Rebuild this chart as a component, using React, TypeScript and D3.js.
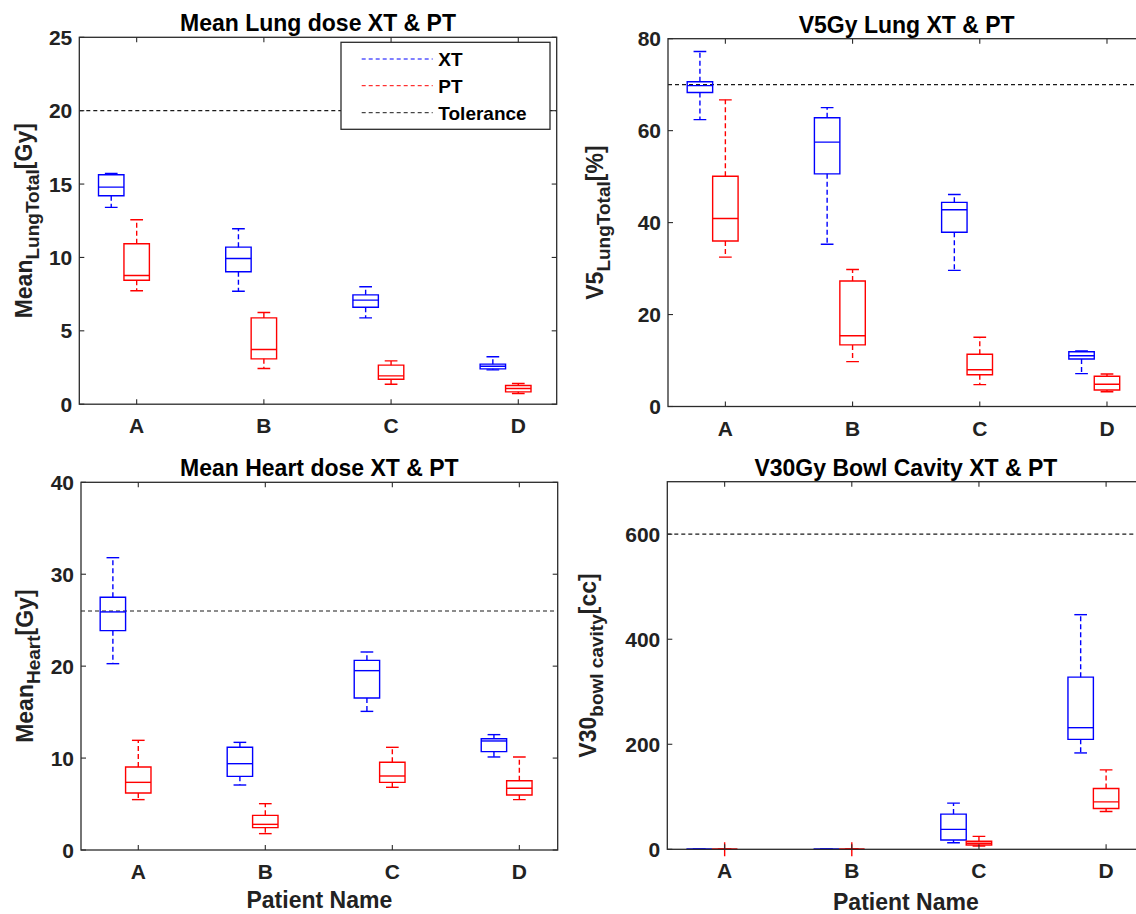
import React from 'react';
import * as d3 from 'd3';

// ---------- DATA ----------
const categories = ['A', 'B', 'C', 'D'];
const seriesNames = ['XT', 'PT', 'Tolerance'];

// each row: [lower whisker, Q1, median, Q3, upper whisker]
const lungMeanXT = [
  [13.41, 14.2, 14.79, 15.63, 15.72],
  [7.7, 9.02, 9.93, 10.7, 11.95],
  [5.88, 6.61, 7.09, 7.45, 8.0],
  [2.34, 2.41, 2.59, 2.73, 3.23],
];
const lungMeanPT = [
  [7.73, 8.45, 8.77, 10.93, 12.57],
  [2.43, 3.09, 3.73, 5.88, 6.25],
  [1.36, 1.7, 1.93, 2.66, 2.95],
  [0.73, 0.84, 1.07, 1.27, 1.41],
];
const lungV5XT = [
  [62.4, 68.3, 69.8, 70.65, 77.2],
  [35.3, 50.6, 57.5, 62.8, 65.0],
  [29.6, 37.9, 42.8, 44.4, 46.1],
  [7.14, 10.33, 11.05, 11.9, 12.07],
];
const lungV5PT = [
  [32.5, 36.0, 40.9, 50.07, 66.7],
  [9.75, 13.4, 15.4, 27.3, 29.8],
  [4.75, 6.9, 8.0, 11.35, 15.05],
  [3.22, 3.59, 4.83, 6.57, 7.07],
];
const heartXT = [
  [20.27, 23.86, 25.9, 27.5, 31.8],
  [7.07, 8.01, 9.39, 11.17, 11.71],
  [15.08, 16.54, 19.51, 20.63, 21.54],
  [10.12, 10.7, 11.86, 12.11, 12.55],
];
const heartPT = [
  [5.48, 6.2, 7.36, 9.03, 11.93],
  [1.78, 2.43, 2.79, 3.77, 5.04],
  [6.82, 7.36, 8.05, 9.54, 11.17],
  [5.48, 5.98, 6.71, 7.54, 10.12],
];
const bowlXT = [
  [0, 0, 0, 0, 0],
  [0, 0, 0, 0, 0],
  [12.6, 17.7, 37.9, 67.0, 87.9],
  [183.5, 209.4, 231.6, 327.8, 446.8],
];
const bowlPT = [
  [0, 0, 0, 0, 0],
  [0, 0, 0, 0, 0],
  [6.3, 8.2, 11.4, 15.2, 24.6],
  [72.1, 77.8, 90.4, 115.8, 151.2],
];
const bowlPTOutliers = [[0], [0], [], []];

const titles = [
  'Mean Lung dose XT & PT',
  'V5Gy Lung XT & PT',
  'Mean Heart dose XT & PT',
  'V30Gy Bowl Cavity XT & PT',
];
const yLabelMain = ['Mean', 'V5', 'Mean', 'V30'];
const yLabelSub = ['LungTotal', 'LungTotal', 'Heart', 'bowl cavity'];
const yLabelUnit = ['[Gy]', '[%]', '[Gy]', '[cc]'];
const tolerances = [20, 70, 26, 600];
const yMax = [25, 80, 40, 700];
const yTicks = [
  [0, 5, 10, 15, 20, 25],
  [0, 20, 40, 60, 80],
  [0, 10, 20, 30, 40],
  [0, 200, 400, 600],
];
const xLabel = 'Patient Name';

// ---------- LAYOUT ----------
const W = 1136;
const H = 914;
const FONT = "'Liberation Sans', Arial, Helvetica, sans-serif";
const AX = '#2b2b2b';
const BLUE = '#0000ff';
const RED = '#ff0000';

const layouts = [
  { l: 79.3, t: 37.3, r: 556.7, b: 404.2, ylx: 32, xl: null },
  { l: 668, t: 38.7, r: 1145.4, b: 406.5, ylx: 603, xl: null },
  { l: 81, t: 482.3, r: 557.7, b: 850, ylx: 32.5, xl: 908 },
  { l: 667.3, t: 481.7, r: 1144.5, b: 849.3, ylx: 596, xl: 910 },
];
const XDOMAIN: [number, number] = [0.549, 4.302];

const panelData = [
  { xt: lungMeanXT, pt: lungMeanPT, ptOut: [[], [], [], []] },
  { xt: lungV5XT, pt: lungV5PT, ptOut: [[], [], [], []] },
  { xt: heartXT, pt: heartPT, ptOut: [[], [], [], []] },
  { xt: bowlXT, pt: bowlPT, ptOut: bowlPTOutliers },
];

function Box({ stats, pos, x, y, color, outliers }: any) {
  const [lw, q1, med, q3, uw] = stats;
  const x0 = x(pos - 0.1);
  const x1 = x(pos + 0.1);
  const cx = x(pos);
  const c0 = x(pos - 0.05);
  const c1 = x(pos + 0.05);
  return (
    <g stroke={color} fill="none" strokeWidth={1.4}>
      <line x1={cx} x2={cx} y1={y(q3)} y2={y(uw)} strokeDasharray="5,3" />
      <line x1={cx} x2={cx} y1={y(q1)} y2={y(lw)} strokeDasharray="5,3" />
      <line x1={c0} x2={c1} y1={y(uw)} y2={y(uw)} />
      <line x1={c0} x2={c1} y1={y(lw)} y2={y(lw)} />
      <path d={`M${x0},${y(q1)}H${x1}V${y(q3)}H${x0}Z`} />
      <line x1={x0} x2={x1} y1={y(med)} y2={y(med)} />
      {outliers.map((o: number, k: number) => (
        <g key={k}>
          <line x1={cx - 7} x2={cx + 7} y1={y(o)} y2={y(o)} />
          <line x1={cx} x2={cx} y1={y(o) - 7} y2={y(o) + 7} />
        </g>
      ))}
    </g>
  );
}

function Panel({ idx }: { idx: number }) {
  const L = layouts[idx];
  const x = d3.scaleLinear().domain(XDOMAIN).range([L.l, L.r]);
  const y = d3.scaleLinear().domain([0, yMax[idx]]).range([L.b, L.t]);
  const data = panelData[idx];
  const cxMid = (L.l + L.r) / 2;
  const cyMid = (L.t + L.b) / 2;
  const clipId = `clip${idx}`;
  return (
    <g>
      <defs>
        <clipPath id={clipId}>
          <rect x={L.l - 1} y={L.t - 1} width={L.r - L.l + 2} height={L.b - L.t + 10} />
        </clipPath>
      </defs>
      <line
        x1={L.l}
        x2={L.r}
        y1={y(tolerances[idx])}
        y2={y(tolerances[idx])}
        stroke="#1a1a1a"
        strokeWidth={1.2}
        strokeDasharray="4,3"
      />
      <g clipPath={`url(#${clipId})`}>
        {categories.map((c, i) => (
          <g key={c}>
            <Box stats={data.xt[i]} pos={i + 1 - 0.2} x={x} y={y} color={BLUE} outliers={[]} />
            <Box stats={data.pt[i]} pos={i + 1} x={x} y={y} color={RED} outliers={data.ptOut[i]} />
          </g>
        ))}
      </g>
      <rect x={L.l} y={L.t} width={L.r - L.l} height={L.b - L.t} fill="none" stroke={AX} strokeWidth={1.3} />
      {categories.map((c, i) => (
        <g key={c}>
          <line x1={x(i + 1)} x2={x(i + 1)} y1={L.b} y2={L.b - 5} stroke={AX} strokeWidth={1.1} />
          <line x1={x(i + 1)} x2={x(i + 1)} y1={L.t} y2={L.t + 5} stroke={AX} strokeWidth={1.1} />
          <text
            x={x(i + 1)}
            y={L.b + 29}
            textAnchor="middle"
            fontFamily={FONT}
            fontWeight="bold"
            fontSize={21}
            fill="#222"
          >
            {c}
          </text>
        </g>
      ))}
      {yTicks[idx].map((t) => (
        <g key={t}>
          <line x1={L.l} x2={L.l + 5} y1={y(t)} y2={y(t)} stroke={AX} strokeWidth={1.1} />
          <line x1={L.r} x2={L.r - 5} y1={y(t)} y2={y(t)} stroke={AX} strokeWidth={1.1} />
          <text
            x={L.l - 7}
            y={y(t) + 7.5}
            textAnchor="end"
            fontFamily={FONT}
            fontWeight="bold"
            fontSize={21}
            fill="#222"
          >
            {t}
          </text>
        </g>
      ))}
      <text x={cxMid} y={L.t - 6} textAnchor="middle" fontFamily={FONT} fontWeight="bold" fontSize={23} fill="#000">
        {titles[idx]}
      </text>
      <text
        transform={`translate(${L.ylx},${cyMid}) rotate(-90)`}
        textAnchor="middle"
        fontFamily={FONT}
        fontWeight="bold"
        fontSize={23}
        fill="#222"
      >
        <tspan>{yLabelMain[idx]}</tspan>
        <tspan dy={7} fontSize={19}>
          {yLabelSub[idx]}
        </tspan>
        <tspan dy={-7}>{yLabelUnit[idx]}</tspan>
      </text>
      {L.xl !== null && (
        <text x={cxMid} y={L.xl} textAnchor="middle" fontFamily={FONT} fontWeight="bold" fontSize={23} fill="#222">
          {xLabel}
        </text>
      )}
    </g>
  );
}

function Legend() {
  const lx = 341;
  const ly = 42.3;
  const colors = [BLUE, RED, '#1a1a1a'];
  const rows = [59, 85.7, 112.7];
  return (
    <g>
      <rect x={lx} y={ly} width={209} height={87} fill="#fff" stroke={AX} strokeWidth={1.3} />
      {seriesNames.map((s, i) => (
        <g key={s}>
          <line
            x1={361.7}
            x2={432.7}
            y1={rows[i]}
            y2={rows[i]}
            stroke={colors[i]}
            strokeWidth={1}
            strokeDasharray="4,3"
          />
          <text x={438.3} y={rows[i] + 7} fontFamily={FONT} fontWeight="bold" fontSize={19} fill="#000">
            {s}
          </text>
        </g>
      ))}
    </g>
  );
}

export default function App() {
  return (
    <svg
      width={W}
      height={H}
      viewBox={`0 0 ${W} ${H}`}
      style={{ position: 'absolute', left: 0, top: 0, background: '#fff', display: 'block' }}
    >
      <rect x={0} y={0} width={W} height={H} fill="#fff" />
      {[0, 1, 2, 3].map((i) => (
        <Panel key={i} idx={i} />
      ))}
      <Legend />
    </svg>
  );
}
